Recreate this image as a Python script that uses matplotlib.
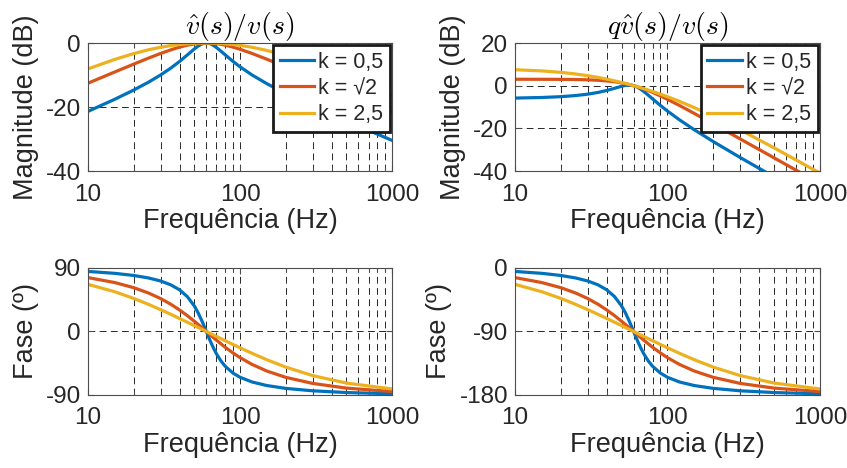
import matplotlib
matplotlib.use('Agg')
import matplotlib.pyplot as plt
from matplotlib.ticker import FixedLocator, LogLocator, NullFormatter

plt.rcParams['font.family'] = ['Liberation Sans', 'DejaVu Sans']
plt.rcParams['mathtext.fontset'] = 'cm'
plt.rcParams['axes.unicode_minus'] = False

# frequencias (Hz)
freq = [10, 15, 20, 25, 30, 35, 40, 45, 50, 53, 56, 58, 60, 62, 64, 67, 70,
        75, 80, 90, 100, 120, 150, 200, 300, 500, 1000]

labels = ['k = 0,5', 'k = \u221a2', 'k = 2,5']

# modulo de v^/v (dB)
mag_d_05 = [-21.37, -17.58, -14.69, -12.24, -10.00, -7.86, -5.77, -3.73, -1.87, -0.96, -0.32, -0.08, 0.00,
            -0.07, -0.28, -0.78, -1.41, -2.58, -3.73, -5.77, -7.44, -10.00, -12.70, -15.78, -19.69, -24.33, -30.43]
mag_d_r2 = [-12.56, -9.05, -6.59, -4.72, -3.27, -2.15, -1.29, -0.68, -0.28, -0.13, -0.04, -0.01, 0.00,
            -0.01, -0.04, -0.10, -0.20, -0.42, -0.68, -1.29, -1.96, -3.27, -5.06, -7.48, -10.98, -15.41, -21.43]
mag_d_25 = [-8.09, -5.12, -3.30, -2.12, -1.34, -0.81, -0.46, -0.23, -0.09, -0.04, -0.01, 0.00, 0.00,
            0.00, -0.01, -0.03, -0.07, -0.14, -0.23, -0.46, -0.73, -1.34, -2.32, -3.93, -6.71, -10.72, -16.54]

# modulo de qv^/v (dB)
mag_q_05 = [-5.81, -5.54, -5.15, -4.63, -3.98, -3.18, -2.25, -1.23, -0.29, 0.12, 0.28, 0.22, 0.00,
            -0.36, -0.84, -1.73, -2.75, -4.51, -6.23, -9.29, -11.88, -16.02, -20.66, -26.23, -33.67, -42.74, -54.87]
mag_q_r2 = [3.01, 2.99, 2.96, 2.88, 2.75, 2.53, 2.23, 1.82, 1.30, 0.95, 0.56, 0.28, 0.00,
            -0.29, -0.60, -1.06, -1.54, -2.36, -3.18, -4.81, -6.39, -9.29, -13.02, -17.94, -24.96, -33.82, -45.86]
mag_q_25 = [7.47, 6.92, 6.24, 5.48, 4.69, 3.87, 3.06, 2.27, 1.49, 1.04, 0.59, 0.29, 0.00,
            -0.29, -0.57, -0.99, -1.41, -2.08, -2.73, -3.98, -5.16, -7.36, -10.28, -14.39, -20.69, -29.13, -40.98]

# fase de v^/v (graus)
fase_d_05 = [85.10, 82.41, 79.38, 75.85, 71.57, 66.15, 59.04, 49.40, 36.25, 26.45, 15.44, 7.72, 0.00,
             -7.47, -14.48, -23.83, -31.76, -41.99, -49.40, -59.04, -64.89, -71.57, -76.61, -80.64, -84.05, -86.52, -88.28]
fase_d_r2 = [76.37, 69.34, 62.06, 54.51, 46.69, 38.65, 30.51, 22.42, 14.54, 9.98, 5.58, 2.75, 0.00,
             -2.66, -5.22, -8.89, -12.35, -17.65, -22.41, -30.51, -37.03, -46.69, -56.04, -65.00, -73.58, -80.23, -85.13]
fase_d_25 = [66.80, 56.31, 46.85, 38.43, 30.96, 24.35, 18.43, 13.13, 8.34, 5.68, 3.16, 1.55, 0.00,
             -1.50, -2.96, -5.06, -7.06, -10.20, -13.13, -18.43, -23.11, -30.96, -40.03, -50.51, -62.49, -73.07, -81.44]

# fase de qv^/v (graus)
fase_q_05 = [-4.90, -7.59, -10.62, -14.15, -18.43, -23.85, -30.96, -40.60, -53.75, -63.55, -74.56, -82.28, -90.00,
             -97.47, -104.48, -113.83, -121.76, -131.99, -139.40, -149.04, -154.89, -161.57, -166.61, -170.64,
             -174.05, -176.52, -178.28]
fase_q_r2 = [-13.63, -20.66, -27.94, -35.49, -43.31, -51.35, -59.49, -67.58, -75.46, -80.02, -84.42, -87.25, -90.00,
             -92.66, -95.22, -98.89, -102.35, -107.65, -112.41, -120.51, -127.03, -136.69, -146.04, -155.00,
             -163.58, -170.23, -175.13]
fase_q_25 = [-23.20, -33.69, -43.15, -51.57, -59.04, -65.65, -71.57, -76.87, -81.66, -84.32, -86.84, -88.45, -90.00,
             -91.50, -92.96, -95.06, -97.06, -100.20, -103.13, -108.43, -113.11, -120.96, -130.03, -140.51,
             -152.49, -163.07, -171.44]

cores = ['#0072BD', '#D95319', '#EDB120']
texto = '#262626'
fs_tick = 17.5
fs_label = 19.5
fs_leg = 15.5


def config_eixo(ax, dados, ylim, yticks, ylabel, titulo=None, legenda=False):
    for y, c, lab in zip(dados, cores, labels):
        ax.plot(freq, y, color=c, linewidth=2.3, label=lab)
    ax.set_xscale('log')
    ax.set_xlim(10, 1000)
    ax.set_ylim(*ylim)
    ax.set_xticks([10, 100, 1000])
    ax.set_xticklabels(['10', '100', '1000'])
    ax.xaxis.set_minor_locator(LogLocator(base=10, subs=range(2, 10)))
    ax.xaxis.set_minor_formatter(NullFormatter())
    ax.yaxis.set_major_locator(FixedLocator(yticks))
    ax.grid(True, which='both', axis='x', color='#262626', linestyle=(0, (7, 4.5)), linewidth=0.7)
    ax.grid(True, which='major', axis='y', color='#262626', linestyle=(0, (7, 4.5)), linewidth=0.7)
    ax.tick_params(which='both', direction='in', top=True, right=True, color='#4d4d4d',
                   width=0.8, labelsize=fs_tick, labelcolor=texto)
    ax.tick_params(axis='x', which='both', pad=9)
    ax.tick_params(axis='y', which='both', pad=5)
    ax.tick_params(which='major', length=4.5)
    ax.tick_params(which='minor', length=3)
    for s in ax.spines.values():
        s.set_color('#4d4d4d')
        s.set_linewidth(0.8)
    ax.set_xlabel('Frequência (Hz)', fontsize=fs_label, color=texto, labelpad=2)
    ax.set_ylabel(ylabel, fontsize=fs_label, color=texto, labelpad=5)
    if titulo:
        ax.set_title(titulo, fontsize=20, color='k', pad=6)
    if legenda:
        leg = ax.legend(loc='upper right', fontsize=fs_leg, fancybox=False, framealpha=1,
                        edgecolor='#1a1a1a', borderaxespad=0.1, handlelength=1.6,
                        handletextpad=0.2, labelspacing=0.25, borderpad=0.3)
        leg.get_frame().set_linewidth(2)
        for t in leg.get_texts():
            t.set_color(texto)


fig = plt.figure(figsize=(8.47, 4.68), dpi=100)
ax1 = fig.add_axes([0.1039, 0.6346, 0.359, 0.2735])
ax2 = fig.add_axes([0.608, 0.6346, 0.360, 0.2735])
ax3 = fig.add_axes([0.1039, 0.156, 0.359, 0.2714])
ax4 = fig.add_axes([0.608, 0.156, 0.360, 0.2714])

config_eixo(ax1, [mag_d_05, mag_d_r2, mag_d_25], (-40, 0), [-40, -20, 0],
            'Magnitude (dB)', r'$\hat{v}(s)/v(s)$', legenda=True)
config_eixo(ax2, [mag_q_05, mag_q_r2, mag_q_25], (-40, 20), [-40, -20, 0, 20],
            'Magnitude (dB)', r'$q\hat{v}(s)/v(s)$', legenda=True)
config_eixo(ax3, [fase_d_05, fase_d_r2, fase_d_25], (-90, 90), [-90, 0, 90], 'Fase (º)')
config_eixo(ax4, [fase_q_05, fase_q_r2, fase_q_25], (-180, 0), [-180, -90, 0], 'Fase (º)')

fig.savefig('out.png', dpi=100)
